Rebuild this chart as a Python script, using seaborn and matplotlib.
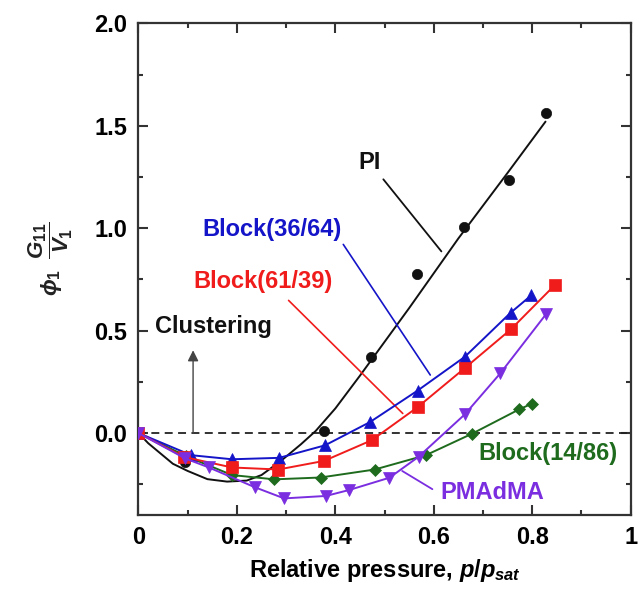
import matplotlib
matplotlib.use("Agg")
import matplotlib.pyplot as plt
from matplotlib.ticker import MultipleLocator, FixedLocator, FixedFormatter
import seaborn as sns

# ---------------- data ----------------
pi_x = [0.095, 0.377, 0.473, 0.566, 0.661, 0.753, 0.827]
pi_y = [-0.14, 0.01, 0.37, 0.777, 1.005, 1.235, 1.56]
pi_fit_x = [0, 0.02, 0.04, 0.07, 0.10, 0.14, 0.18, 0.22, 0.25, 0.29, 0.33,
            0.36, 0.40, 0.45, 0.55, 0.65, 0.75, 0.827]
pi_fit_y = [0, -0.05, -0.09, -0.15, -0.185, -0.225, -0.237, -0.232, -0.205,
            -0.135, -0.055, 0.01, 0.12, 0.28, 0.61, 0.95, 1.27, 1.52]

b1486_x = [0, 0.097, 0.19, 0.276, 0.37, 0.48, 0.584, 0.678, 0.773, 0.799]
b1486_y = [0, -0.113, -0.205, -0.226, -0.217, -0.178, -0.108, -0.003, 0.115, 0.143]

b3664_x = [0, 0.107, 0.19, 0.286, 0.379, 0.47, 0.567, 0.663, 0.756, 0.798]
b3664_y = [0, -0.108, -0.128, -0.121, -0.06, 0.053, 0.207, 0.372, 0.587, 0.672]

b6139_x = [0, 0.093, 0.19, 0.284, 0.377, 0.474, 0.567, 0.663, 0.757, 0.847]
b6139_y = [0, -0.117, -0.168, -0.178, -0.136, -0.035, 0.126, 0.317, 0.507, 0.725]

pmadma_x = [0, 0.095, 0.143, 0.237, 0.296, 0.381, 0.428, 0.51, 0.569, 0.663, 0.735, 0.828]
pmadma_y = [0, -0.124, -0.168, -0.265, -0.319, -0.307, -0.278, -0.218, -0.116, 0.091, 0.291, 0.58]

x_ticks = [0, 0.2, 0.4, 0.6, 0.8, 1.0]
x_tick_labels = ["0", "0.2", "0.4", "0.6", "0.8", "1"]
y_ticks = [0.0, 0.5, 1.0, 1.5, 2.0]
y_tick_labels = ["0.0", "0.5", "1.0", "1.5", "2.0"]

# ---------------- style ----------------
sns.set_theme(style="ticks")
plt.rcParams["font.family"] = ["Liberation Sans", "DejaVu Sans"]
plt.rcParams["font.weight"] = "bold"
plt.rcParams["mathtext.fontset"] = "custom"
plt.rcParams["mathtext.rm"] = "Liberation Sans:bold"
plt.rcParams["mathtext.bf"] = "Liberation Sans:bold"
plt.rcParams["mathtext.it"] = "Liberation Sans:italic:bold"
plt.rcParams["mathtext.sf"] = "Liberation Sans:bold"

BLACK = "#111111"
BLUE = "#1414C8"
RED = "#F01C1C"
GREEN = "#1E6B1E"
PURPLE = "#7A2EE0"

fig = plt.figure(figsize=(6.38, 5.91), dpi=100)
ax = fig.add_axes([0.217, 0.1286, 0.7715, 0.832])

ax.axhline(0, color="#222222", lw=1.3, ls=(0, (4.4, 3.0)), zorder=1)

# PI fit line and points
sns.lineplot(x=pi_fit_x, y=pi_fit_y, ax=ax, color=BLACK, lw=1.4,
             sort=False, estimator=None, zorder=2)
sns.scatterplot(x=pi_x, y=pi_y, ax=ax, color=BLACK, marker="o", s=55,
                edgecolor=BLACK, linewidth=0.5, zorder=3)

series = [
    (b1486_x, b1486_y, GREEN, "D", 6.0),
    (b3664_x, b3664_y, BLUE, "^", 8.5),
    (b6139_x, b6139_y, RED, "s", 8.0),
    (pmadma_x, pmadma_y, PURPLE, "v", 8.5),
]
for i, (sx, sy, c, m, ms) in enumerate(series):
    sns.lineplot(x=sx, y=sy, ax=ax, color=c, lw=1.4, marker=m, markersize=ms,
                 markeredgecolor=c, markerfacecolor=c, markeredgewidth=0.5,
                 sort=False, estimator=None, zorder=4 + i)

# ---------------- annotations ----------------
FS = 17
ax.text(0.470, 1.322, "PI", color=BLACK, fontsize=FS, fontweight="bold",
        ha="center", va="center")
ax.annotate("", xy=(0.619, 0.876), xytext=(0.494, 1.249),
            arrowprops=dict(arrowstyle="-", color=BLACK, lw=1.3))

ax.text(0.271, 0.994, "Block(36/64)", color=BLUE, fontsize=FS, fontweight="bold",
        ha="center", va="center")
ax.annotate("", xy=(0.596, 0.272), xytext=(0.413, 0.932),
            arrowprops=dict(arrowstyle="-", color=BLUE, lw=1.2))

ax.text(0.253, 0.738, "Block(61/39)", color=RED, fontsize=FS, fontweight="bold",
        ha="center", va="center")
ax.annotate("", xy=(0.541, 0.086), xytext=(0.301, 0.657),
            arrowprops=dict(arrowstyle="-", color=RED, lw=1.2))

ax.text(0.153, 0.518, "Clustering", color=BLACK, fontsize=FS, fontweight="bold",
        ha="center", va="center")
ax.annotate("", xy=(0.111, 0.404), xytext=(0.111, 0.0),
            arrowprops=dict(arrowstyle="-|>", color="#444444", lw=1.0,
                            mutation_scale=16, shrinkA=0, shrinkB=0))

ax.text(0.831, -0.101, "Block(14/86)", color=GREEN, fontsize=FS, fontweight="bold",
        ha="center", va="center")

ax.text(0.719, -0.291, "PMAdMA", color=PURPLE, fontsize=FS, fontweight="bold",
        ha="center", va="center")
ax.annotate("", xy=(0.531, -0.178), xytext=(0.602, -0.281),
            arrowprops=dict(arrowstyle="-", color=PURPLE, lw=1.3))

# ---------------- axes ----------------
ax.set_xlim(0, 1)
ax.set_ylim(-0.4, 2.0)
ax.xaxis.set_major_locator(FixedLocator(x_ticks))
ax.xaxis.set_major_formatter(FixedFormatter(x_tick_labels))
ax.yaxis.set_major_locator(FixedLocator(y_ticks))
ax.yaxis.set_major_formatter(FixedFormatter(y_tick_labels))
ax.xaxis.set_minor_locator(MultipleLocator(0.1))
ax.yaxis.set_minor_locator(MultipleLocator(0.25))
ax.tick_params(which="both", direction="in", top=True, right=True,
               color="#333333", width=1.5)
ax.tick_params(which="major", length=7, labelsize=17, pad=8, labelcolor="black")
ax.tick_params(which="minor", length=3.5)
for lab in ax.get_xticklabels() + ax.get_yticklabels():
    lab.set_fontweight("bold")
for sp in ax.spines.values():
    sp.set_visible(True)
    sp.set_linewidth(1.6)
    sp.set_color("#333333")

ax.set_xlabel(r"Relative pressure, $p/p_{sat}$", fontsize=17, fontweight="bold",
              labelpad=6, color="black")
ax.set_ylabel(r"$\phi_1\;\;\dfrac{G_{11}}{V_1}$", fontsize=16, color="#222222")
ax.yaxis.set_label_coords(-0.128, 0.52)

fig.savefig("out.png", dpi=100)
